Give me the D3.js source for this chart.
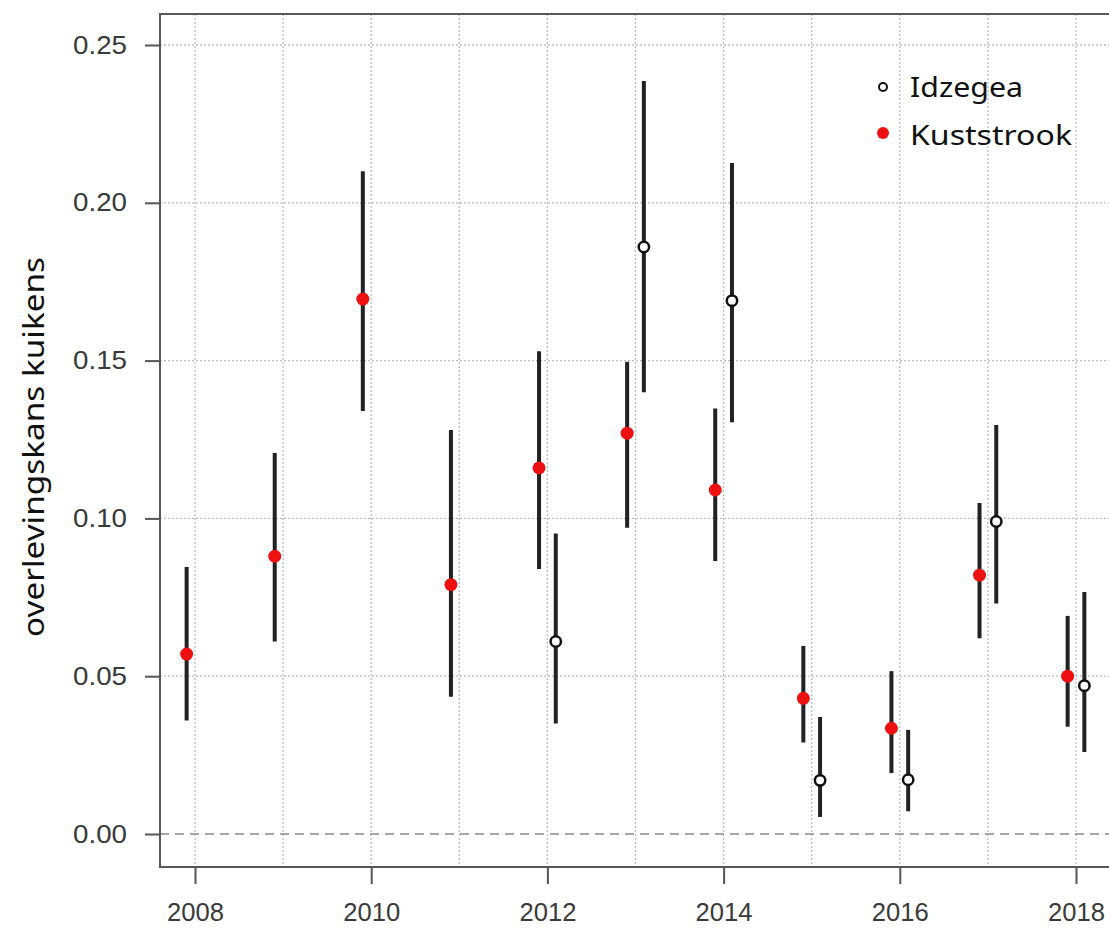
<!DOCTYPE html>
<html>
<head>
<meta charset="utf-8">
<script src="https://cdn.jsdelivr.net/npm/d3@7"></script>
<style>
	body { margin: 0; background: #fff; overflow: hidden; }
	svg { display: block; }
</style>
</head>
<body>
<div id="chart"></div>
<script>
// years and estimates
const years = [2008, 2009, 2010, 2011, 2012, 2013, 2014, 2015, 2016, 2017, 2018];

// Kuststrook (red, filled)
const kustMean  = [0.057, 0.088, 0.1695, 0.079, 0.116, 0.127, 0.109, 0.043, 0.0335, 0.082, 0.050];
const kustLower = [0.036, 0.061, 0.134, 0.0435, 0.084, 0.097, 0.0865, 0.029, 0.0193, 0.062, 0.034];
const kustUpper = [0.0846, 0.1207, 0.210, 0.128, 0.153, 0.1496, 0.1348, 0.0596, 0.0516, 0.1049, 0.0691];

// Idzegea (open circles), only from 2012 on
const idzMean  = [null, null, null, null, 0.061, 0.186, 0.169, 0.017, 0.0172, 0.099, 0.047];
const idzLower = [null, null, null, null, 0.035, 0.140, 0.1305, 0.0054, 0.0072, 0.073, 0.026];
const idzUpper = [null, null, null, null, 0.0952, 0.2386, 0.2126, 0.0371, 0.033, 0.1296, 0.0767];

const yTicks = [0, 0.05, 0.10, 0.15, 0.20, 0.25];
const xTicks = [2008, 2010, 2012, 2014, 2016, 2018];
const legendLabels = ["Idzegea", "Kuststrook"];

const width = 1109, height = 930;
const box = {left: 160, top: 14, right: 1140, bottom: 867};

const svg = d3.select("#chart").append("svg")
	.attr("width", width)
	.attr("height", height);

let x = d3.scaleLinear().domain([2008, 2018]).range([195, 1076]);
let y = d3.scaleLinear().domain([0, 0.25]).range([834, 45]);

const tickFont = "'Liberation Sans', Arial, sans-serif";

// grid (R style: light gray dotted)
const grid = svg.append("g");
grid.selectAll("line.vg")
	.data(d3.range(2008, 2020))
	.join("line")
	.attr("x1", d => x(d)).attr("x2", d => x(d))
	.attr("y1", box.top).attr("y2", box.bottom)
	.attr("stroke", "#bdbdbd")
	.attr("stroke-width", 1.3)
	.attr("stroke-dasharray", "2,2");

grid.selectAll("line.hg")
	.data(yTicks.filter(d => d > 0))
	.join("line")
	.attr("x1", box.left).attr("x2", box.right)
	.attr("y1", d => y(d)).attr("y2", d => y(d))
	.attr("stroke", "#bdbdbd")
	.attr("stroke-width", 1.3)
	.attr("stroke-dasharray", "2,2");

// zero reference line, dashed
svg.append("line")
	.attr("x1", box.left).attr("x2", box.right)
	.attr("y1", y(0)).attr("y2", y(0))
	.attr("stroke", "#8a8a8a")
	.attr("stroke-width", 1.5)
	.attr("stroke-dasharray", "9,6");

// frame
svg.append("rect")
	.attr("x", box.left).attr("y", box.top)
	.attr("width", box.right - box.left)
	.attr("height", box.bottom - box.top)
	.attr("fill", "none")
	.attr("stroke", "#595959")
	.attr("stroke-width", 2);

// y axis
const yAxis = svg.append("g")
	.attr("transform", `translate(${box.left},0)`)
	.call(d3.axisLeft(y).tickValues(yTicks).tickFormat(d3.format(".2f")).tickSize(15).tickPadding(18));
yAxis.select(".domain").remove();
yAxis.selectAll(".tick line").attr("stroke", "#555").attr("stroke-width", 2);
yAxis.selectAll(".tick text")
	.attr("fill", "#3a3a3a")
	.attr("textLength", 54)
	.attr("lengthAdjust", "spacingAndGlyphs")
	.style("font", `25px ${tickFont}`);

// x axis
const xAxis = svg.append("g")
	.attr("transform", `translate(0,${box.bottom})`)
	.call(d3.axisBottom(x).tickValues(xTicks).tickFormat(d3.format("d")).tickSize(17).tickPadding(19));
xAxis.select(".domain").remove();
xAxis.selectAll(".tick line").attr("stroke", "#555").attr("stroke-width", 2);
xAxis.selectAll(".tick text")
	.attr("fill", "#3a3a3a")
	.attr("textLength", 57)
	.attr("lengthAdjust", "spacingAndGlyphs")
	.style("font", `25px ${tickFont}`);

// y title
svg.append("text")
	.attr("transform", "translate(44,447) rotate(-90)")
	.attr("text-anchor", "middle")
	.attr("textLength", 380)
	.attr("lengthAdjust", "spacingAndGlyphs")
	.style("font", "29px 'Noto Sans', sans-serif")
	.attr("fill", "#111")
	.text("overlevingskans kuikens");

// series
let kust = years.map((yr, i) => ({yr, m: kustMean[i], lo: kustLower[i], hi: kustUpper[i]}));
let idz = years.map((yr, i) => ({yr, m: idzMean[i], lo: idzLower[i], hi: idzUpper[i]}))
	.filter(d => d.m !== null);

const dodge = 0.095;

svg.append("g").selectAll("line")
	.data(kust)
	.join("line")
	.attr("x1", d => x(d.yr - dodge)).attr("x2", d => x(d.yr - dodge))
	.attr("y1", d => y(d.lo)).attr("y2", d => y(d.hi))
	.attr("stroke", "#222")
	.attr("stroke-width", 4);

svg.append("g").selectAll("line")
	.data(idz)
	.join("line")
	.attr("x1", d => x(d.yr + dodge)).attr("x2", d => x(d.yr + dodge))
	.attr("y1", d => y(d.lo)).attr("y2", d => y(d.hi))
	.attr("stroke", "#222")
	.attr("stroke-width", 4);

svg.append("g").selectAll("circle")
	.data(kust)
	.join("circle")
	.attr("cx", d => x(d.yr - dodge))
	.attr("cy", d => y(d.m))
	.attr("r", 6.5)
	.attr("fill", "#ee1111");

svg.append("g").selectAll("circle")
	.data(idz)
	.join("circle")
	.attr("cx", d => x(d.yr + dodge))
	.attr("cy", d => y(d.m))
	.attr("r", 5.2)
	.attr("fill", "#fff")
	.attr("stroke", "#111")
	.attr("stroke-width", 2.5);

// legend
const legend = svg.append("g").attr("transform", "translate(883,87)");
legend.append("circle")
	.attr("cx", 0).attr("cy", 0).attr("r", 4)
	.attr("fill", "#fff").attr("stroke", "#111").attr("stroke-width", 2);
legend.append("circle")
	.attr("cx", 0).attr("cy", 46).attr("r", 6)
	.attr("fill", "#ee1111");
legend.selectAll("text")
	.data(legendLabels)
	.join("text")
	.attr("x", 27)
	.attr("y", (d, i) => 10 + i * 48)
	.attr("textLength", (d, i) => i === 0 ? 113 : 162)
	.attr("lengthAdjust", "spacingAndGlyphs")
	.style("font", "28px 'Noto Sans', sans-serif")
	.attr("fill", "#111")
	.text(d => d);
</script>
</body>
</html>
